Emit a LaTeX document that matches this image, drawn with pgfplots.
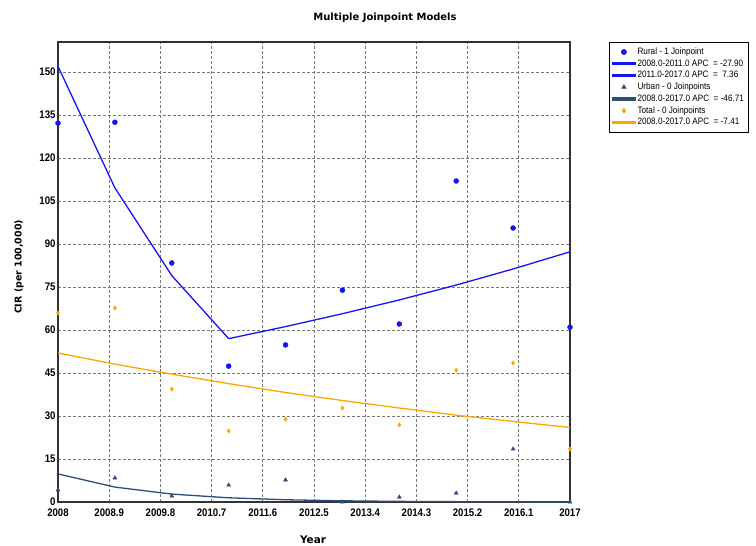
\documentclass[border=0pt]{standalone}
\usepackage{pgfplots}
\pgfplotsset{compat=1.18}
\usepackage{fontspec}
\setmainfont{Liberation Sans}
\newfontfamily\verd{DejaVu Sans}
\newfontfamily\tickfont[FakeStretch=0.88]{Liberation Sans}
\definecolor{rural}{RGB}{20,20,245}
\definecolor{urban}{RGB}{45,75,125}
\definecolor{total}{RGB}{255,165,0}
\definecolor{gridc}{RGB}{120,120,120}
\begin{document}
\begin{tikzpicture}
\useasboundingbox (0,0) rectangle (756bp,546bp);
\node[font=\verd\bfseries\fontsize{10}{12}\selectfont] at (385bp,528bp) {Multiple Joinpoint Models};
\node[font=\verd\bfseries\fontsize{9.5}{11}\selectfont, rotate=90] at (19bp,279bp) {CIR (per 100,000)};
\node[font=\verd\bfseries\fontsize{10.5}{12}\selectfont] at (313bp,6bp) {Year};
\begin{axis}[
  at={(58bp,44bp)}, anchor=south west, scale only axis,
  width=512bp, height=460bp,
  xmin=2008, xmax=2017, ymin=0, ymax=160.5,
  xtick={2008,2008.9,2009.8,2010.7,2011.6,2012.5,2013.4,2014.3,2015.2,2016.1,2017},
  xticklabels={2008,2008.9,2009.8,2010.7,2011.6,2012.5,2013.4,2014.3,2015.2,2016.1,2017},
  ytick={0,15,30,45,60,75,90,105,120,135,150},
  yticklabels={0,15,30,45,60,75,90,105,120,135,150},
  tick label style={font=\tickfont\bfseries\fontsize{11}{12}\selectfont},
  xticklabel style={yshift=-3bp},
  yticklabel style={xshift=1bp},
  major tick length=0pt,
  grid=major,
  major grid style={gridc, densely dashed, line width=0.9bp},
  axis line style={black!80, line width=1.2bp},
  clip=false,
  legend cell align=left,
  legend style={at={(1.076,1)}, anchor=north west, draw=black, line width=0.8bp,
    font=\tickfont\fontsize{9.3}{10}\selectfont, row sep=-0.3bp, inner xsep=3bp, inner ysep=3.5bp},
  legend image code/.code={\draw[mark repeat=2,mark phase=2,#1] plot coordinates {(0bp,0bp) (11bp,0bp) (22bp,0bp)};},
]
% Rural observed
\addplot[only marks, mark=*, mark size=2.5bp, color=rural] coordinates {
(2008,132.2) (2009,132.5) (2010,83.4) (2011,47.4) (2012,54.8) (2013,73.9) (2014,62.1) (2015,112.0) (2016,95.6) (2017,61.0)};
\addlegendentry{Rural - 1 Joinpoint}
\addplot[color=rural, line width=1.3bp, mark=none, legend image code/.code={\fill[rural] (0bp,-0.9bp) rectangle (22bp,0.9bp);}] coordinates {
(2008,152.0) (2009,109.6) (2010,79.0) (2011,57.0)};
\addlegendentry{2008.0-2011.0 APC \ = -27.90}
\addplot[color=rural, line width=1.3bp, mark=none, legend image code/.code={\fill[rural] (0bp,-0.9bp) rectangle (22bp,0.9bp);}] coordinates {
(2011,57.0) (2012,61.2) (2013,65.7) (2014,70.5) (2015,75.7) (2016,81.3) (2017,87.3)};
\addlegendentry{2011.0-2017.0 APC \ = \ 7.36}
% Urban observed
\addplot[only marks, mark=triangle*, mark size=2.3bp, color=urban] coordinates {
(2008,4.2) (2009,8.4) (2010,2.1) (2011,5.9) (2012,7.7) (2013,0.0) (2014,1.7) (2015,3.1) (2016,18.5) (2017,0.0)};
\addlegendentry{Urban - 0 Joinpoints}
\addplot[color=urban, line width=1.3bp, mark=none, legend image code/.code={\fill[urban] (0bp,-0.9bp) rectangle (22bp,0.9bp);}] coordinates {
(2008,9.8) (2009,5.2) (2010,2.76) (2011,1.47) (2012,0.78) (2013,0.42) (2014,0.22) (2015,0.12) (2016,0.06) (2017,0.03)};
\addlegendentry{2008.0-2017.0 APC \ = -46.71}
% Total observed
\addplot[only marks, mark=diamond*, mark size=2.2bp, color=total] coordinates {
(2008,65.9) (2009,67.7) (2010,39.4) (2011,24.8) (2012,28.9) (2013,32.8) (2014,26.9) (2015,46.0) (2016,48.5) (2017,18.5)};
\addlegendentry{Total - 0 Joinpoints}
\addplot[color=total, line width=1.3bp, mark=none, legend image code/.code={\fill[total] (0bp,-0.9bp) rectangle (22bp,0.9bp);}] coordinates {
(2008,52.0) (2009,48.1) (2010,44.6) (2011,41.3) (2012,38.2) (2013,35.4) (2014,32.8) (2015,30.3) (2016,28.1) (2017,26.0)};
\addlegendentry{2008.0-2017.0 APC \ = -7.41}
\end{axis}
\end{tikzpicture}
\end{document}
